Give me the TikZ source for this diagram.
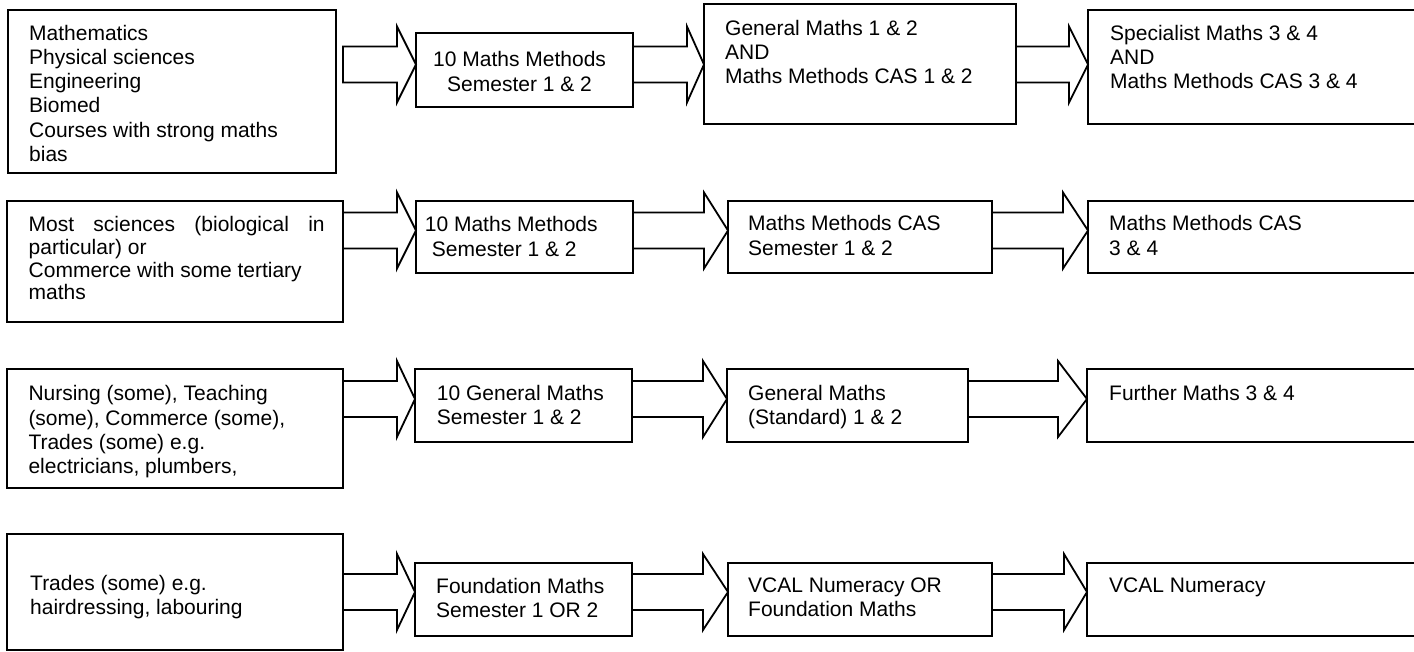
\documentclass[tikz,border=0pt]{standalone}
\usepackage{fontspec}
\setmainfont{Liberation Sans}
\usetikzlibrary{calc,fit}

\tikzset{
  box/.style={draw, line width=1.8pt, inner sep=0pt, outer sep=0pt},
  txt/.style={anchor=north west, align=left, inner sep=0pt, font=\fontsize{21}{24.2}\selectfont},
  fat/.style={draw, line width=1.8pt, miter limit=20, fill=white},
}

\begin{document}
\begin{tikzpicture}[x=1pt,y=-1pt]
\clip (0,0) rectangle (1414,652);

% boxes, one row after the other
\node[box, fit={(8,10) (336,173)}] (a1) {};
\node[box, fit={(416,33) (633,107)}] (b1) {};
\node[box, fit={(704,4) (1016,124)}] (c1) {};
\node[box, fit={(1088,10) (1440,124)}] (d1) {};

\node[box, fit={(7,201) (343,322)}] (a2) {};
\node[box, fit={(416,201) (633,273)}] (b2) {};
\node[box, fit={(728,201) (992,273)}] (c2) {};
\node[box, fit={(1088,201) (1440,273)}] (d2) {};

\node[box, fit={(7,369) (343,488)}] (a3) {};
\node[box, fit={(415,369) (632,442)}] (b3) {};
\node[box, fit={(727,369) (968,442)}] (c3) {};
\node[box, fit={(1087,369) (1440,442)}] (d3) {};

\node[box, fit={(7,534) (343,650)}] (a4) {};
\node[box, fit={(415,563) (632,636)}] (b4) {};
\node[box, fit={(728,563) (992,636)}] (c4) {};
\node[box, fit={(1087,563) (1440,636)}] (d4) {};

% texts
\node[txt] (a1t) at (29,24.8) {Mathematics\\Physical sciences\\Engineering\\Biomed\\Courses with strong maths\\bias};
\node[txt] (b1t) at (433,51.5) {10 Maths Methods\\\hspace*{14pt}Semester 1 \& 2};
\node[txt] (c1t) at (725,19.8) {General Maths 1 \& 2\\AND\\Maths Methods CAS 1 \& 2};
\node[txt] (d1t) at (1110,24.8) {Specialist Maths 3 \& 4\\AND\\Maths Methods CAS 3 \& 4};

\node[txt, font=\fontsize{21}{22.6}\selectfont] (a2t) at (28.5,216.5) {\makebox[296pt][s]{Most sciences (biological in}\\particular) or\\Commerce with some tertiary\\maths};
\node[txt] (b2t) at (424.7,216.5) {10 Maths Methods\\\hspace*{7pt}Semester 1 \& 2};
\node[txt] (c2t) at (748,215.5) {Maths Methods CAS\\Semester 1 \& 2};
\node[txt] (d2t) at (1109,215.5) {Maths Methods CAS\\3 \& 4};

\node[txt] (a3t) at (28.3,385.5) {Nursing (some), Teaching\\(some), Commerce (some),\\Trades (some) e.g.\\electricians, plumbers,};
\node[txt] (b3t) at (436.7,384.8) {10 General Maths\\Semester 1 \& 2};
\node[txt] (c3t) at (748,384.8) {General Maths\\(Standard) 1 \& 2};
\node[txt] (d3t) at (1109,384.8) {Further Maths 3 \& 4};

\node[txt] (a4t) at (30,574.8) {Trades (some) e.g.\\hairdressing, labouring};
\node[txt] (b4t) at (436,577.8) {Foundation Maths\\Semester 1 OR 2};
\node[txt] (c4t) at (748,577.8) {VCAL Numeracy OR\\Foundation Maths};
\node[txt] (d4t) at (1109,577.8) {VCAL Numeracy};

% height of the arrows in each row
\coordinate (r1) at (0,64.5);
\coordinate (r2) at (0,230.5);
\coordinate (r3) at (0,399);
\coordinate (r4) at (0,592);

% block arrows: from / to / row / head length / gap at the tail
\foreach \p/\q/\r/\len/\gap in {a1/b1/r1/19/7, b1/c1/r1/17/0, c1/d1/r1/19/0,
    a2/b2/r2/19/0, b2/c2/r2/24/0, c2/d2/r2/25/0,
    a3/b3/r3/18/0, b3/c3/r3/24/0, c3/d3/r3/29/0,
    a4/b4/r4/18/0, b4/c4/r4/25/0, c4/d4/r4/23/0}{
  \path (\p.east |- \r) ++(\gap,0) coordinate (t) (\q.west |- \r) coordinate (h);
  \draw[fat] ($(t)+(0,-18)$) -- ($(h)+(-\len,-18)$) -- ($(h)+(-\len,-38)$) -- (h)
    -- ($(h)+(-\len,38)$) -- ($(h)+(-\len,18)$) -- ($(t)+(0,18)$) -- cycle;
}

\end{tikzpicture}
\end{document}
